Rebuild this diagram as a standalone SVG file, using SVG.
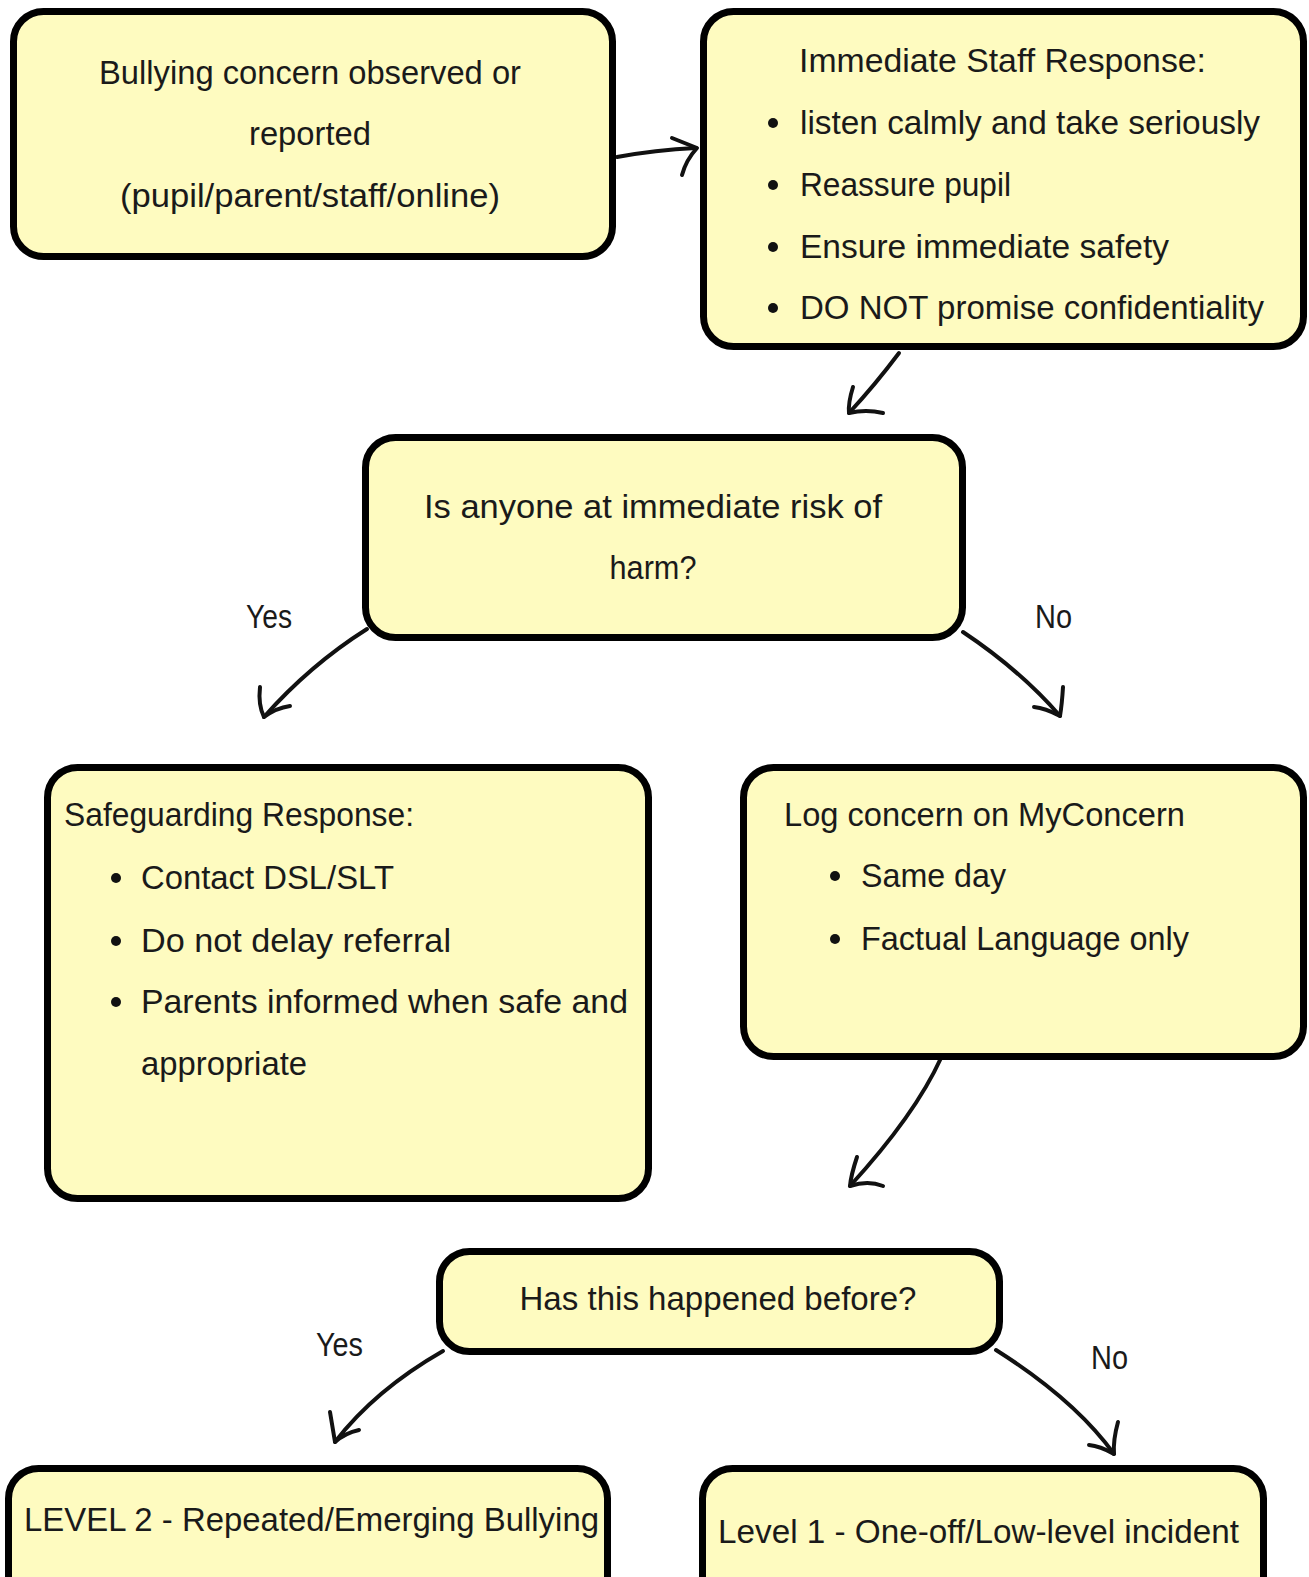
<svg xmlns="http://www.w3.org/2000/svg" width="1309" height="1577" viewBox="0 0 1309 1577">
<style>
.box{fill:#FEFBC0;stroke:#000;stroke-width:7}
.t{font-family:"Liberation Sans Narrow","Liberation Sans",sans-serif;font-size:33px;fill:#1a1a1a}
.c{text-anchor:middle}
.ln{fill:none;stroke:#111;stroke-width:4;stroke-linecap:round;stroke-linejoin:round}
.dot{fill:#111}
</style>
<rect width="1309" height="1577" fill="#fff"/>
<g id="connectors">
<path class="ln" d="M617,157 Q655,150 696,148"/>
<path class="ln" d="M672,138 L697,148 Q686,160 682,175"/>
<path class="ln" d="M899,353 Q875,385 849,413"/>
<path class="ln" d="M853,387 Q848,403 849,413 Q866,409 883,413"/>
<path class="ln" d="M367,629 Q310,665 264,717"/>
<path class="ln" d="M260,687 Q258,705 264,717 Q276,708 290,706"/>
<path class="ln" d="M963,632 Q1020,670 1060,716"/>
<path class="ln" d="M1063,687 Q1062,704 1060,716 Q1045,708 1034,707"/>
<path class="ln" d="M941,1058 Q915,1115 850,1186"/>
<path class="ln" d="M857,1157 Q851,1175 850,1186 Q868,1180 883,1186"/>
<path class="ln" d="M443,1351 Q375,1390 335,1442"/>
<path class="ln" d="M330,1412 Q333,1430 335,1442 Q345,1433 359,1430"/>
<path class="ln" d="M996,1350 Q1075,1400 1114,1454"/>
<path class="ln" d="M1118,1422 Q1113,1440 1114,1454 Q1100,1446 1089,1445"/>
<text class="t" x="246" y="628" textLength="46" lengthAdjust="spacingAndGlyphs" font-size="35">Yes</text>
<text class="t" x="1035" y="628" textLength="37" lengthAdjust="spacingAndGlyphs" font-size="35">No</text>
<text class="t" x="316" y="1356" textLength="47" lengthAdjust="spacingAndGlyphs" font-size="35">Yes</text>
<text class="t" x="1091" y="1369" textLength="37" lengthAdjust="spacingAndGlyphs" font-size="35">No</text>
</g>
<g id="node1">
<rect class="box" x="13.5" y="11.5" width="599" height="245" rx="30"/>
<text class="t c" x="310" y="84" textLength="422" lengthAdjust="spacingAndGlyphs">Bullying concern observed or</text>
<text class="t c" x="310" y="145" textLength="122" lengthAdjust="spacingAndGlyphs">reported</text>
<text class="t c" x="310" y="207" textLength="380" lengthAdjust="spacingAndGlyphs">(pupil/parent/staff/online)</text>
</g>
<g id="node2">
<rect class="box" x="703.5" y="11.5" width="600" height="335" rx="30"/>
<text class="t" x="799" y="72" textLength="407" lengthAdjust="spacingAndGlyphs">Immediate Staff Response:</text>
<circle class="dot" cx="773" cy="123" r="5"/>
<text class="t" x="800" y="134" textLength="460" lengthAdjust="spacingAndGlyphs">listen calmly and take seriously</text>
<circle class="dot" cx="773" cy="185" r="5"/>
<text class="t" x="800" y="196" textLength="211" lengthAdjust="spacingAndGlyphs">Reassure pupil</text>
<circle class="dot" cx="773" cy="247" r="5"/>
<text class="t" x="800" y="258" textLength="369" lengthAdjust="spacingAndGlyphs">Ensure immediate safety</text>
<circle class="dot" cx="773" cy="308" r="5"/>
<text class="t" x="800" y="319" textLength="464" lengthAdjust="spacingAndGlyphs">DO NOT promise confidentiality</text>
</g>
<g id="node3">
<rect class="box" x="365.5" y="437.5" width="597" height="200" rx="30"/>
<text class="t c" x="653" y="518" textLength="458" lengthAdjust="spacingAndGlyphs">Is anyone at immediate risk of</text>
<text class="t c" x="653" y="579" textLength="87" lengthAdjust="spacingAndGlyphs">harm?</text>
</g>
<g id="node4">
<rect class="box" x="47.5" y="767.5" width="601" height="431" rx="30"/>
<text class="t" x="64" y="826" textLength="350" lengthAdjust="spacingAndGlyphs">Safeguarding Response:</text>
<circle class="dot" cx="116" cy="878" r="5"/>
<text class="t" x="141" y="889" textLength="253" lengthAdjust="spacingAndGlyphs">Contact DSL/SLT</text>
<circle class="dot" cx="116" cy="941" r="5"/>
<text class="t" x="141" y="952" textLength="310" lengthAdjust="spacingAndGlyphs">Do not delay referral</text>
<circle class="dot" cx="116" cy="1002" r="5"/>
<text class="t" x="141" y="1013" textLength="487" lengthAdjust="spacingAndGlyphs">Parents informed when safe and</text>
<text class="t" x="141" y="1075" textLength="166" lengthAdjust="spacingAndGlyphs">appropriate</text>
</g>
<g id="node5">
<rect class="box" x="743.5" y="767.5" width="560" height="289" rx="30"/>
<text class="t" x="784" y="826" textLength="401" lengthAdjust="spacingAndGlyphs">Log concern on MyConcern</text>
<circle class="dot" cx="835" cy="876" r="5"/>
<text class="t" x="861" y="887" textLength="145" lengthAdjust="spacingAndGlyphs">Same day</text>
<circle class="dot" cx="835" cy="939" r="5"/>
<text class="t" x="861" y="950" textLength="328" lengthAdjust="spacingAndGlyphs">Factual Language only</text>
</g>
<g id="node6">
<rect class="box" x="439.5" y="1251.5" width="560" height="100" rx="30"/>
<text class="t c" x="718" y="1310" textLength="397" lengthAdjust="spacingAndGlyphs">Has this happened before?</text>
</g>
<g id="node7">
<rect class="box" x="8.5" y="1468.5" width="599" height="140" rx="30"/>
<text class="t" x="24" y="1531" textLength="575" lengthAdjust="spacingAndGlyphs">LEVEL 2 - Repeated/Emerging Bullying</text>
</g>
<g id="node8">
<rect class="box" x="702.5" y="1468.5" width="561" height="140" rx="30"/>
<text class="t" x="718" y="1543" textLength="521" lengthAdjust="spacingAndGlyphs">Level 1 - One-off/Low-level incident</text>
</g>
</svg>
